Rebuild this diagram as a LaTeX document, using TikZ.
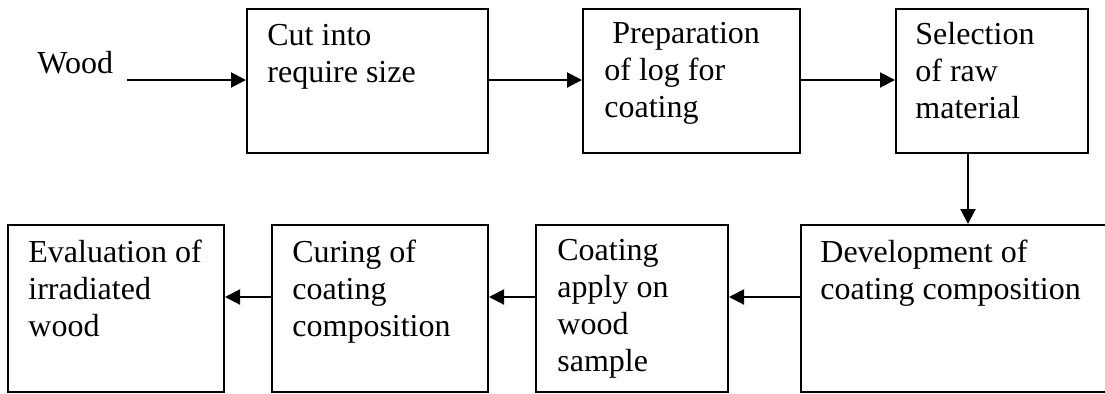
\documentclass[tikz,border=0pt]{standalone}
\usepackage{fontspec}
\setmainfont{Liberation Serif}
\usepackage{tikz}
\usetikzlibrary{positioning,fit,arrows.meta}

\begin{document}
\begin{tikzpicture}[x=0.5pt, y=-0.5pt,
    box/.style={draw, line width=1pt, inner sep=0pt},
    txt/.style={anchor=north west, yshift=12.95pt, align=left, inner sep=0pt,
        font=\fontsize{16}{18.5}\selectfont, execute at begin node={\strut}},
    arrow/.style={-{Triangle[length=7.5pt, width=7.5pt]}, line width=1pt}]
    \useasboundingbox (0,0) rectangle (1105,393);
    % top row
    \node[txt] (wood) at (37,73) {Wood};
    \node[box, fit={(247,9) (488,153)}] (cut) {};
    \node[box, fit={(583,9) (800,153)}] (prep) {};
    \node[box, fit={(896,9) (1088,153)}] (select) {};
    \node[txt] (cuttext) at (267,50) {Cut into\\require size};
    \node[txt] (preptext) at (604,48) {\ Preparation\\of log for\\coating};
    \node[txt] (selecttext) at (915,48) {Selection\\of raw\\material};
    % bottom row
    \node[box, fit={(801,225) (1112,392)}] (develop) {};
    \node[box, fit={(536,225) (728,392)}] (apply) {};
    \node[box, fit={(272,225) (488,392)}] (curing) {};
    \node[box, fit={(8,225) (224,392)}] (evaluate) {};
    \node[txt] (developtext) at (820,265) {Development of\\coating composition};
    \node[txt] (applytext) at (557,265) {Coating\\apply on\\wood\\sample};
    \node[txt] (curingtext) at (292,265) {Curing of\\coating\\composition};
    \node[txt] (evaluatetext) at (28,265) {Evaluation of\\irradiated\\wood};
    % connectors
    \coordinate (woodin) at (127,80);
    \coordinate (down) at (968,0);
    \coordinate (row) at (0,297);
    \draw[arrow] (woodin) -- (woodin -| cut.west);
    \draw[arrow] (cut.east |- woodin) -- (prep.west |- woodin);
    \draw[arrow] (prep.east |- woodin) -- (select.west |- woodin);
    \draw[arrow] (select.south -| down) -- (develop.north -| down);
    \draw[arrow] (develop.west |- row) -- (apply.east |- row);
    \draw[arrow] (apply.west |- row) -- (curing.east |- row);
    \draw[arrow] (curing.west |- row) -- (evaluate.east |- row);
\end{tikzpicture}
\end{document}
